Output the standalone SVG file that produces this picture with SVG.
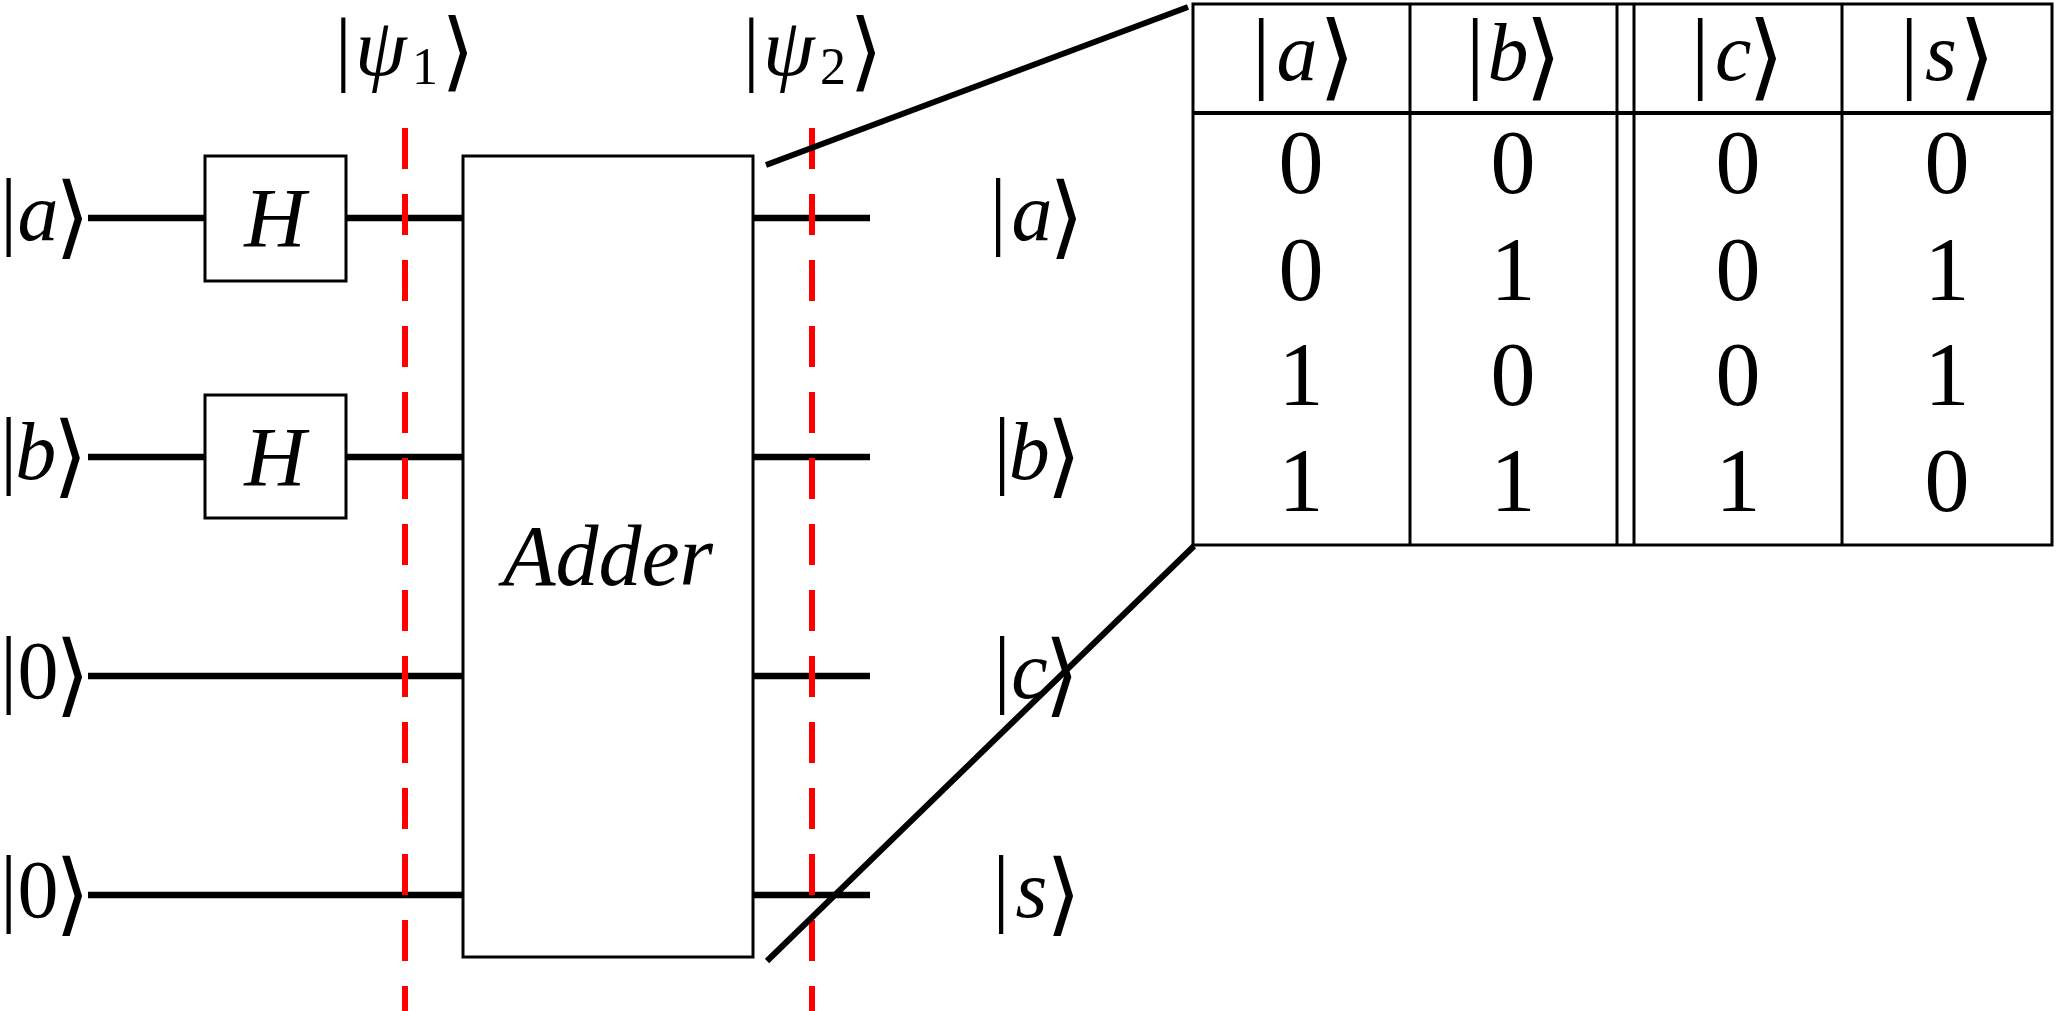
<svg xmlns="http://www.w3.org/2000/svg" width="2056" height="1011" viewBox="0 0 2056 1011">
<style>
text{font-family:"Liberation Serif","DejaVu Serif",serif;fill:#000}
.b86{font-size:86px}
.b92{font-size:92px}
.b83{font-size:83px}
.i{font-style:italic;font-size:82px}
.n{font-size:82px}
.k{font-family:"DejaVu Sans","DejaVu Serif",sans-serif;font-weight:200;font-size:90px}
.k94{font-family:"DejaVu Sans","DejaVu Serif",sans-serif;font-weight:200;font-size:94px}
.k86{font-family:"DejaVu Sans","DejaVu Serif",sans-serif;font-weight:200;font-size:86px}
.dig{font-size:90px;text-anchor:middle}
.wire{stroke:#000;stroke-width:6.5;fill:none}
.box{stroke:#000;stroke-width:3;fill:#fff}
.red{stroke:#ff0000;stroke-width:6;stroke-dasharray:41 25;fill:none}
.diag{stroke:#000;stroke-width:6;fill:none}
.tl{stroke:#000;stroke-width:3;fill:none}
</style>
<rect width="2056" height="1011" fill="#fff"/>
<g id="connectors">
<line class="wire" x1="88" y1="218" x2="205" y2="218"/>
<line class="wire" x1="346" y1="218" x2="463" y2="218"/>
<line class="wire" x1="88" y1="457" x2="205" y2="457"/>
<line class="wire" x1="346" y1="457" x2="463" y2="457"/>
<line class="wire" x1="88" y1="676" x2="463" y2="676"/>
<line class="wire" x1="88" y1="895" x2="463" y2="895"/>
<line class="wire" x1="753" y1="218" x2="870" y2="218"/>
<line class="wire" x1="753" y1="457" x2="870" y2="457"/>
<line class="wire" x1="753" y1="676" x2="870" y2="676"/>
<line class="wire" x1="753" y1="895" x2="870" y2="895"/>
</g>
<g id="gate-h1"><rect class="box" x="205" y="156" width="141" height="125"/><text x="275" y="247" font-size="85" font-style="italic" text-anchor="middle">H</text></g>
<g id="gate-h2"><rect class="box" x="205" y="395" width="141" height="123"/><text x="275" y="486" font-size="85" font-style="italic" text-anchor="middle">H</text></g>
<g id="adder"><rect class="box" x="463" y="156" width="290" height="801"/><text x="608" y="585" font-size="86" font-style="italic" text-anchor="middle">Adder</text></g>
<g id="slices">
<line class="red" x1="405" y1="128" x2="405" y2="1011"/>
<line class="red" x1="812" y1="128" x2="812" y2="1011"/>
</g>
<g id="label-in-a"><text x="0" y="238"><tspan class="b86">|</tspan><tspan class="i" dx="0.3" dy="2">a</tspan><tspan class="k" dx="-3.5" dy="6.7">⟩</tspan></text></g>
<g id="label-in-b"><text x="0" y="477"><tspan class="b86">|</tspan><tspan class="i" dx="-2" dy="2">b</tspan><tspan class="k" dx="-3.5" dy="6.7">⟩</tspan></text></g>
<g id="label-in-0a"><text x="0" y="696"><tspan class="b86">|</tspan><tspan class="n" dx="0.3" dy="2">0</tspan><tspan class="k" dx="-3.5" dy="6.7">⟩</tspan></text></g>
<g id="label-in-0b"><text x="0" y="915"><tspan class="b86">|</tspan><tspan class="n" dx="0.3" dy="2">0</tspan><tspan class="k" dx="-3.5" dy="6.7">⟩</tspan></text></g>
<g id="label-out-a"><text x="989.6" y="238"><tspan class="b86">|</tspan><tspan class="i" dx="4.7" dy="2">a</tspan><tspan class="k" dx="-3.5" dy="6.7">⟩</tspan></text></g>
<g id="label-out-b"><text x="993.6" y="477"><tspan class="b86">|</tspan><tspan class="i" dx="-2" dy="2">b</tspan><tspan class="k" dx="-3.5" dy="6.7">⟩</tspan></text></g>
<g id="label-out-c"><text x="993.6" y="696"><tspan class="b86">|</tspan><tspan class="i" dx="0.5" dy="2">c</tspan><tspan class="k" dx="-3.5" dy="6.7">⟩</tspan></text></g>
<g id="label-out-s"><text x="992.6" y="915"><tspan class="b86">|</tspan><tspan class="i" dx="5.7" dy="2">s</tspan><tspan class="k" dx="-1.4" dy="6.7">⟩</tspan></text></g>
<g id="psi1"><text y="74.5"><tspan class="b83" x="334.9">|</tspan><tspan font-style="italic" font-size="83" x="355" dy="0.5">ψ</tspan><tspan font-size="52" x="412" dy="9">1</tspan><tspan class="k86" x="441.2" dy="-4">⟩</tspan></text></g>
<g id="psi2"><text y="74.5"><tspan class="b83" x="742.9">|</tspan><tspan font-style="italic" font-size="83" x="763" dy="0.5">ψ</tspan><tspan font-size="52" x="820" dy="9">2</tspan><tspan class="k86" x="849.2" dy="-4">⟩</tspan></text></g>
<g id="zoom-lines">
<line class="diag" x1="766" y1="165" x2="1188" y2="7"/>
<line class="diag" x1="767" y1="961" x2="1194" y2="546"/>
</g>
<g id="truth-table">
<rect class="tl" x="1193" y="4" width="859" height="541" fill="#fff"/>
<line stroke="#000" stroke-width="4" x1="1193" y1="113" x2="2052" y2="113"/>
<line class="tl" x1="1410" y1="4" x2="1410" y2="545"/>
<line class="tl" x1="1617" y1="4" x2="1617" y2="545"/>
<line class="tl" x1="1634" y1="4" x2="1634" y2="545"/>
<line class="tl" x1="1842" y1="4" x2="1842" y2="545"/>
<g id="head-a"><text x="1252" y="82"><tspan class="b92">|</tspan><tspan class="i" dx="6.1" dy="-2">a</tspan><tspan class="k94" dx="1.3" dy="7.5">⟩</tspan></text></g>
<g id="head-b"><text x="1466" y="82"><tspan class="b92">|</tspan><tspan class="i" dx="3" dy="-2">b</tspan><tspan class="k94" dx="-3.5" dy="7.5">⟩</tspan></text></g>
<g id="head-c"><text x="1691" y="82"><tspan class="b92">|</tspan><tspan class="i" dx="5.5" dy="-2">c</tspan><tspan class="k94" dx="-3.5" dy="7.5">⟩</tspan></text></g>
<g id="head-s"><text x="1900" y="82"><tspan class="b92">|</tspan><tspan class="i" dx="6.6" dy="-2">s</tspan><tspan class="k94" dx="1.9" dy="7.5">⟩</tspan></text></g>
<g id="rows">
<text class="dig" x="1301" y="193">0</text><text class="dig" x="1513" y="193">0</text><text class="dig" x="1738" y="193">0</text><text class="dig" x="1947" y="193">0</text>
<text class="dig" x="1301" y="300">0</text><text class="dig" x="1513" y="300">1</text><text class="dig" x="1738" y="300">0</text><text class="dig" x="1947" y="300">1</text>
<text class="dig" x="1301" y="405">1</text><text class="dig" x="1513" y="405">0</text><text class="dig" x="1738" y="405">0</text><text class="dig" x="1947" y="405">1</text>
<text class="dig" x="1301" y="511">1</text><text class="dig" x="1513" y="511">1</text><text class="dig" x="1738" y="511">1</text><text class="dig" x="1947" y="511">0</text>
</g>
</g>
</svg>
